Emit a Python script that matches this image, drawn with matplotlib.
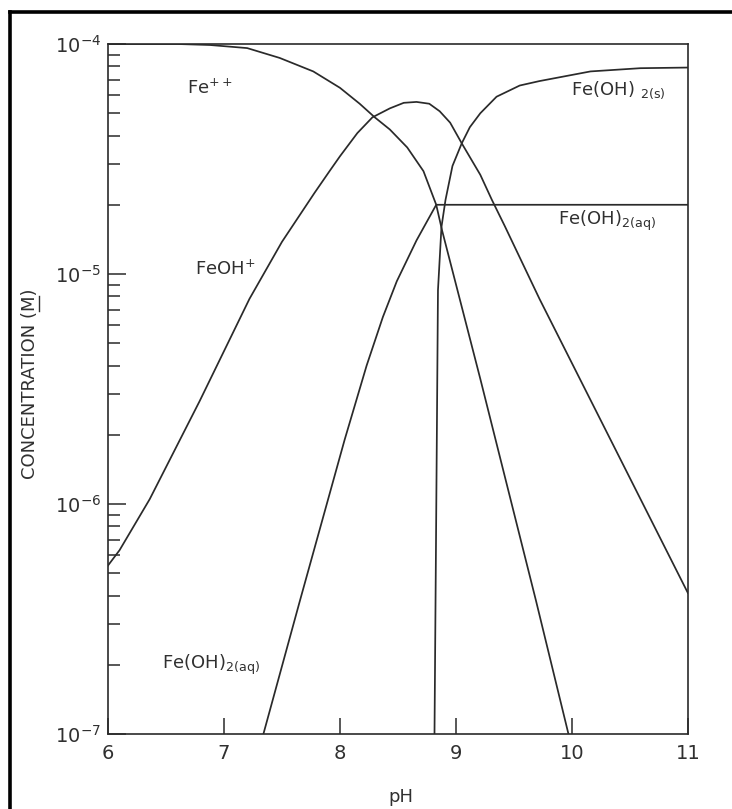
import numpy as np
import matplotlib
matplotlib.use('Agg')
import matplotlib.pyplot as plt
from matplotlib.lines import Line2D

ph_fe = [6.0, 6.6, 6.88, 7.20, 7.48, 7.77, 8.0, 8.17, 8.30, 8.43, 8.58, 8.72, 8.83, 8.88,
         9.21, 9.69, 9.97]
c_fe = [1.0e-4, 1.0e-4, 9.9e-5, 9.6e-5, 8.7e-5, 7.6e-5, 6.45e-5, 5.5e-5, 4.8e-5, 4.25e-5,
        3.55e-5, 2.8e-5, 2.0e-5, 1.55e-5, 3.5e-6, 3.8e-7, 1.0e-7]

ph_feoh = [6.0, 6.10, 6.36, 6.79, 7.22, 7.50, 7.78, 7.91, 8.0, 8.15, 8.28, 8.43, 8.55,
           8.66, 8.77, 8.86, 8.95, 9.05, 9.21, 9.31, 9.42, 9.72, 11.0]
c_feoh = [5.4e-7, 6.3e-7, 1.05e-6, 2.8e-6, 7.8e-6, 1.38e-5, 2.25e-5, 2.8e-5, 3.25e-5,
          4.1e-5, 4.8e-5, 5.25e-5, 5.55e-5, 5.6e-5, 5.5e-5, 5.1e-5, 4.55e-5, 3.7e-5,
          2.7e-5, 2.1e-5, 1.62e-5, 7.8e-6, 4.1e-7]

ph_aq = [7.34, 7.655, 8.04, 8.23, 8.37, 8.49, 8.66, 8.83, 11.0]
c_aq = [1.0e-7, 3.8e-7, 1.9e-6, 4.0e-6, 6.5e-6, 9.3e-6, 1.4e-5, 2.0e-5, 2.0e-5]

ph_s = [8.815, 8.835, 8.845, 8.875, 8.91, 8.97, 9.05, 9.12, 9.21, 9.35, 9.55, 9.72, 10.16,
        10.59, 11.0]
c_s = [1.0e-7, 1.9e-6, 8.5e-6, 1.6e-5, 2.1e-5, 2.95e-5, 3.7e-5, 4.35e-5, 5.0e-5, 5.9e-5,
       6.6e-5, 6.9e-5, 7.6e-5, 7.85e-5, 7.9e-5]

ph_ticks = [6, 7, 8, 9, 10, 11]
c_ticks = [1e-7, 1e-6, 1e-5, 1e-4]
c_tick_labels = ['$10^{-7}$', '$10^{-6}$', '$10^{-5}$', '$10^{-4}$']

lijn = '#2a2a2a'
tekst = '#303030'

W, H = 732, 809
fig = plt.figure(figsize=(W / 100, H / 100), dpi=100)
fig.patch.set_facecolor('white')
ax = fig.add_axes([0.1475, 0.0927, 0.7923, 0.8529])

ax.plot(ph_fe, c_fe, color=lijn, lw=1.25, solid_joinstyle='round')
ax.plot(ph_feoh, c_feoh, color=lijn, lw=1.25, solid_joinstyle='round')
ax.plot(ph_aq, c_aq, color=lijn, lw=1.25, solid_joinstyle='round')
ax.plot(ph_s, c_s, color=lijn, lw=1.25, solid_joinstyle='round')

ax.set_yscale('log')
ax.set_xlim(6, 11)
ax.set_ylim(1e-7, 1e-4)

ax.set_xticks(ph_ticks)
ax.set_xticklabels([str(p) for p in ph_ticks])
ax.set_yticks(c_ticks)
ax.set_yticklabels(c_tick_labels)
ax.yaxis.set_minor_locator(matplotlib.ticker.LogLocator(base=10, subs=np.arange(2, 10)))
ax.yaxis.set_minor_formatter(matplotlib.ticker.NullFormatter())

ax.tick_params(axis='x', which='major', direction='in', length=11.5, width=1.1,
               color=lijn, labelsize=14, labelcolor=tekst, pad=7)
ax.tick_params(axis='y', which='major', direction='in', length=13, width=1.1,
               color=lijn, labelsize=14, labelcolor=tekst, pad=5)
ax.tick_params(axis='y', which='minor', direction='in', length=8.6, width=1.1, color=lijn)
for s in ax.spines.values():
    s.set_linewidth(1.2)
    s.set_color(lijn)

# labels bij de lijnen
ax.text(6.68, 6.45e-5, 'Fe$^{++}$', fontsize=13, color=tekst, va='center', ha='left')
ax.text(6.75, 1.05e-5, 'FeOH$^{+}$', fontsize=13, color=tekst, va='center', ha='left')
ax.text(9.99, 6.3e-5, r'Fe(OH) $_{\mathrm{2(s)}}$', fontsize=13, color=tekst,
        va='center', ha='left')
ax.text(9.88, 1.7e-5, r'Fe(OH)$_{\mathrm{2(aq)}}$', fontsize=13, color=tekst,
        va='center', ha='left')
ax.text(6.47, 2.0e-7, r'Fe(OH)$_{\mathrm{2(aq)}}$', fontsize=13, color=tekst,
        va='center', ha='left')

# y-as titel, M onderstreept (mathtext kent geen \underline)
lx, ly = 30, 384
fig.text(lx / W, 1 - ly / H, 'CONCENTRATION (M)', rotation=90,
         fontsize=13, color=tekst, ha='center', va='center')
r = fig.canvas.get_renderer()
tmp1 = fig.text(0, 0, 'CONCENTRATION (', fontsize=13)
tmp2 = fig.text(0, 0, 'CONCENTRATION (M', fontsize=13)
tmp3 = fig.text(0, 0, 'CONCENTRATION (M)', fontsize=13)
w1 = tmp1.get_window_extent(r).width
w2 = tmp2.get_window_extent(r).width
wt = tmp3.get_window_extent(r).width
for t in (tmp1, tmp2, tmp3):
    t.remove()
onder = ly + wt / 2  # onderkant van de tekst in pixels (van boven gemeten)
y_a = onder - w1
y_b = onder - w2
x_u = lx + 9
fig.add_artist(Line2D([x_u / W, x_u / W], [1 - y_a / H, 1 - y_b / H], transform=fig.transFigure,
                      color=tekst, lw=1.0))

fig.text(401 / W, 1 - 797 / H, 'pH', fontsize=13, color=tekst, ha='center', va='center')

# zwarte rand van de scan
fig.add_artist(Line2D([10 / W, 1], [1 - 12 / H, 1 - 12 / H], transform=fig.transFigure,
                      color='black', lw=2.6))
fig.add_artist(Line2D([10 / W, 10 / W], [0, 1 - 12 / H], transform=fig.transFigure,
                      color='black', lw=2.6))

fig.savefig('out.png', dpi=100, facecolor='white')
